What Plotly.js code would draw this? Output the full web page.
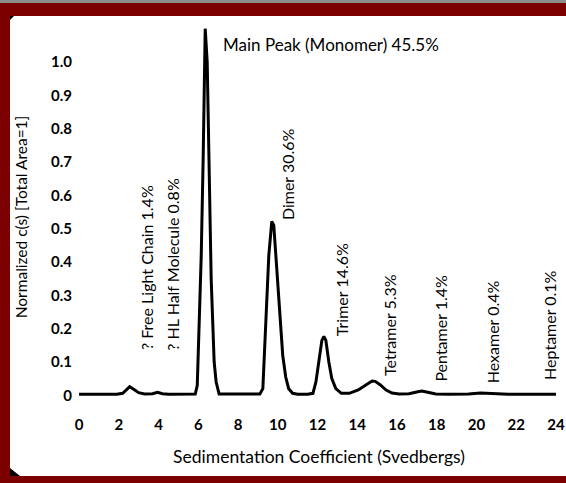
<!DOCTYPE html>
<html>
<head>
<meta charset="utf-8">
<script src="https://cdn.plot.ly/plotly-3.0.1.min.js"></script>
<style>html,body{margin:0;padding:0;background:#7d0000;}#chart{width:566px;height:483px;}</style>
</head>
<body>
<div id="chart"></div>
<script>
// Sedimentation coefficient (S) and normalized c(s)
const sValues = [0, 1.9, 2.2, 2.4, 2.55, 2.75, 3.0, 3.3, 3.7, 3.95, 4.2, 4.5, 5.0, 5.85, 5.95, 6.05, 6.15, 6.25, 6.35, 6.45, 6.55, 6.65, 6.8, 6.9, 7.05, 8.5, 9.1, 9.25, 9.4, 9.55, 9.7, 9.8, 9.95, 10.1, 10.25, 10.4, 10.55, 10.75, 11.0, 11.5, 11.77, 11.92, 12.07, 12.22, 12.32, 12.42, 12.57, 12.72, 12.92, 13.2, 13.6, 14.05, 14.45, 14.75, 14.9, 15.15, 15.45, 15.75, 16.1, 16.6, 17.05, 17.25, 17.55, 17.95, 18.6, 19.6, 20.2, 20.7, 21.6, 23, 24];
const csValues = [0.003, 0.003, 0.006, 0.018, 0.026, 0.018, 0.008, 0.004, 0.005, 0.009, 0.005, 0.003, 0.003, 0.004, 0.03, 0.2, 0.42, 0.72, 1.10, 1.0, 0.70, 0.35, 0.10, 0.04, 0.004, 0.003, 0.004, 0.02, 0.2, 0.42, 0.522, 0.51, 0.38, 0.25, 0.12, 0.055, 0.02, 0.006, 0.003, 0.003, 0.006, 0.04, 0.11, 0.165, 0.177, 0.165, 0.1, 0.05, 0.02, 0.006, 0.006, 0.016, 0.032, 0.043, 0.042, 0.032, 0.016, 0.007, 0.004, 0.005, 0.011, 0.013, 0.009, 0.004, 0.003, 0.004, 0.007, 0.005, 0.003, 0.003, 0.003];

const xTickVals = [0, 2, 4, 6, 8, 10, 12, 14, 16, 18, 20, 22, 24];
const xTickText = ['0', '2', '4', '6', '8', '10', '12', '14', '16', '18', '20', '22', '24'];
const yTickVals = [0, 0.1, 0.2, 0.3, 0.4, 0.5, 0.6, 0.7, 0.8, 0.9, 1.0];
const yTickText = ['0', '0.1', '0.2', '0.3', '0.4', '0.5', '0.6', '0.7', '0.8', '0.9', '1.0'];

// Peak labels (rotated)
const peakLabels = ['? Free Light Chain 1.4%', '? HL Half Molecule 0.8%', 'Dimer 30.6%', 'Trimer 14.6%', 'Tetramer 5.3%', 'Pentamer 1.4%', 'Hexamer 0.4%', 'Heptamer 0.1%'];
const peakLabelX = [3.43, 4.72, 10.47, 13.2, 15.63, 18.2, 20.8, 23.7];
const peakLabelY = [0.129, 0.129, 0.52, 0.171, 0.051, 0.036, 0.030, 0.039];
const mainLabel = 'Main Peak (Monomer) 45.5%';
const mainLabelX = 7.15;
const mainLabelY = 1.054;

const FONT = 'Lato, "Open Sans", sans-serif';

const annotations = peakLabels.map((t, i) => ({
  x: peakLabelX[i], y: peakLabelY[i], xref: 'x', yref: 'y',
  text: t, textangle: -90, showarrow: false,
  xanchor: 'center', yanchor: 'bottom',
  font: {family: FONT, size: 16, color: '#000'}
}));
annotations.push({
  x: mainLabelX, y: mainLabelY, xref: 'x', yref: 'y',
  text: mainLabel, showarrow: false, xanchor: 'left', yanchor: 'middle',
  font: {family: FONT, size: 17, color: '#000'}
});

const trace = {
  x: sValues, y: csValues, type: 'scatter', mode: 'lines',
  line: {color: '#000', width: 3, shape: 'linear'},
  hoverinfo: 'skip', cliponaxis: false
};

const layout = {
  width: 566, height: 483,
  margin: {l: 79, r: 7, t: 22, b: 71, pad: 0},
  paper_bgcolor: '#7d0000', plot_bgcolor: '#ffffff',
  showlegend: false,
  font: {family: FONT, color: '#000'},
  xaxis: {
    range: [0, 24.15], tickmode: 'array', tickvals: xTickVals, ticktext: xTickText,
    showgrid: false, zeroline: false, showline: false, ticks: '',
    tickfont: {family: FONT, size: 15, color: '#000', weight: 'bold'},
    ticklabelstandoff: 2, ticklabeloverflow: 'allow',
    title: {text: 'Sedimentation Coefficient (Svedbergs)', font: {family: FONT, size: 17.5, color: '#000'}, standoff: 18},
    automargin: false, fixedrange: true
  },
  yaxis: {
    range: [-0.05, 1.12], tickmode: 'array', tickvals: yTickVals, ticktext: yTickText,
    showgrid: false, zeroline: false, showline: false, ticks: '',
    tickfont: {family: FONT, size: 15, color: '#000', weight: 'bold'},
    ticklabelstandoff: 6,
    title: {text: 'Normalized c(s) [Total Area=1]', font: {family: FONT, size: 15.5, color: '#000'}, standoff: 19},
    automargin: false, fixedrange: true
  },
  shapes: [
    {type: 'rect', xref: 'paper', yref: 'paper', x0: -0.14375, x1: 1.02, y0: -0.1641, y1: 1.0154, fillcolor: '#ffffff', line: {width: 0}, layer: 'below'},
    {type: 'rect', xref: 'paper', yref: 'paper', x0: -0.17, x1: 1.02, y0: 1.0487, y1: 1.06, fillcolor: '#8c8c8c', line: {width: 0}, layer: 'below'},
    {type: 'path', xref: 'paper', yref: 'paper', path: 'M -0.14375 -0.1436 L -0.14375 -0.1641 L -0.1229 -0.1641 Z', fillcolor: '#000', line: {width: 0}, layer: 'below'},
    {type: 'path', xref: 'paper', yref: 'paper', path: 'M -0.14375 1.0154 L -0.1354 1.0154 L -0.14375 1.0051 Z', fillcolor: '#000', line: {width: 0}, layer: 'below'}
  ],
  annotations: annotations
};

Plotly.newPlot('chart', [trace], layout, {displayModeBar: false, staticPlot: true});
</script>
</body>
</html>
